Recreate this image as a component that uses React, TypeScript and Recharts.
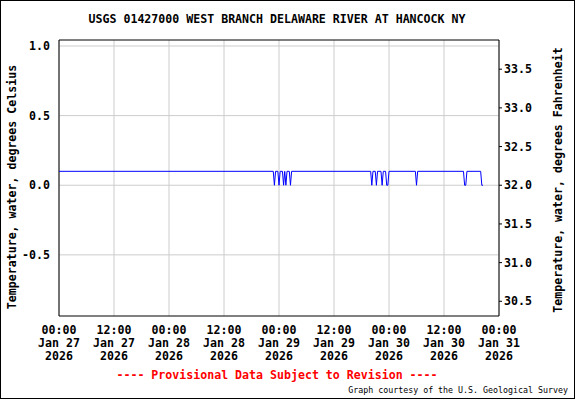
import { LineChart, Line, XAxis, YAxis, CartesianGrid, ReferenceArea } from 'recharts';

// hours since 00:00 Jan 27 2026, water temperature in deg C
const hours = [
  0, 46.75, 47, 47.25, 47.75, 48, 48.25, 48.75, 49, 49.25, 49.5, 49.75, 50.25, 50.5, 50.75,
  68, 68.25, 68.5, 69, 69.25, 69.5, 70.25, 70.5, 70.75, 71.25, 71.5, 71.75, 72,
  77.75, 78, 78.25, 88.25, 88.5, 88.75, 89, 92, 92.25, 92.5,
];
const tempC = [
  0.1, 0.1, 0.0, 0.1, 0.1, 0.0, 0.1, 0.1, 0.0, 0.1, 0.0, 0.1, 0.1, 0.0, 0.1,
  0.1, 0.0, 0.1, 0.1, 0.0, 0.1, 0.1, 0.0, 0.1, 0.1, 0.0, 0.0, 0.1,
  0.1, 0.0, 0.1, 0.1, 0.0, 0.0, 0.1, 0.1, 0.0, 0.0,
];

const xTicks = [0, 12, 24, 36, 48, 60, 72, 84, 96];
const xTimes = ['00:00', '12:00', '00:00', '12:00', '00:00', '12:00', '00:00', '12:00', '00:00'];
const xDates = ['Jan 27', 'Jan 27', 'Jan 28', 'Jan 28', 'Jan 29', 'Jan 29', 'Jan 30', 'Jan 30', 'Jan 31'];
const xYears = ['2026', '2026', '2026', '2026', '2026', '2026', '2026', '2026', '2026'];

const cTicks = [-0.5, 0, 0.5, 1.0];
const fTicks = [30.5, 31.0, 31.5, 32.0, 32.5, 33.0, 33.5];
const cDomain = [-0.939, 1.043];
const fDomain = [cDomain[0] * 1.8 + 32, cDomain[1] * 1.8 + 32];

const data = hours.map((h, i) => ({ h, c: tempC[i], f: tempC[i] * 1.8 + 32 }));

const FONT = '"DejaVu Sans Mono", "Liberation Mono", monospace';

function TimeTick({ x, y, index }: any) {
  return (
    <text x={x} y={y} textAnchor="middle" fontFamily={FONT} fontWeight="bold" fontSize={11.6} fill="#000">
      <tspan x={x} y={y + 18}>{xTimes[index]}</tspan>
      <tspan x={x} y={y + 31}>{xDates[index]}</tspan>
      <tspan x={x} y={y + 44}>{xYears[index]}</tspan>
    </text>
  );
}

export default function App() {
  const tickStyle = { fontFamily: FONT, fontWeight: 'bold', fontSize: 11.6, fill: '#000' };

  return (
    <div style={{ position: 'absolute', left: 0, top: 0, width: 576, height: 400, background: '#fff' }}>
      <div
        style={{
          position: 'absolute', left: 0, top: 0, width: 575, height: 399,
          border: '1px solid #000', boxSizing: 'border-box',
        }}
      />
      <LineChart width={576} height={400} data={data} margin={{ top: 40, right: 0, bottom: 0, left: 0 }}>
        <CartesianGrid yAxisId="c" stroke="#cccccc" horizontalValues={cTicks} verticalValues={xTicks} />
        <XAxis
          dataKey="h"
          type="number"
          domain={[0, 96]}
          ticks={xTicks}
          height={84}
          axisLine={false}
          tickLine={false}
          tickSize={0}
          tickMargin={0}
          interval={0}
          tick={<TimeTick />}
        />
        <YAxis
          yAxisId="c"
          type="number"
          domain={cDomain}
          ticks={cTicks}
          width={59}
          axisLine={false}
          tickLine={false}
          tickSize={0}
          tickMargin={9}
          interval={0}
          allowDataOverflow
          tickFormatter={(v: number) => v.toFixed(1)}
          tick={tickStyle}
        />
        <YAxis
          yAxisId="f"
          orientation="right"
          type="number"
          domain={fDomain}
          ticks={fTicks}
          width={77}
          axisLine={false}
          tickLine={{ stroke: '#000' }}
          tickSize={3}
          tickMargin={2}
          interval={0}
          allowDataOverflow
          tickFormatter={(v: number) => v.toFixed(1)}
          tick={tickStyle}
        />
        <Line
          yAxisId="f"
          type="linear"
          dataKey="f"
          stroke="none"
          dot={false}
          activeDot={false}
          isAnimationActive={false}
        />
        <Line
          yAxisId="c"
          type="linear"
          dataKey="c"
          stroke="#0000ff"
          strokeWidth={1}
          dot={false}
          activeDot={false}
          isAnimationActive={false}
        />
        <ReferenceArea
          yAxisId="c"
          x1={0}
          x2={96}
          y1={cDomain[0]}
          y2={cDomain[1]}
          fill="none"
          stroke="#000"
          strokeWidth={1}
          ifOverflow="visible"
        />
      </LineChart>
      <svg width={576} height={400} style={{ position: 'absolute', left: 0, top: 0, pointerEvents: 'none' }}>
        <text x={277} y={23} textAnchor="middle" fontFamily={FONT} fontWeight="bold" fontSize={11.6}>
          USGS 01427000 WEST BRANCH DELAWARE RIVER AT HANCOCK NY
        </text>
        <text
          transform="translate(12,187) rotate(-90)"
          textAnchor="middle"
          dominantBaseline="central"
          fontFamily={FONT}
          fontWeight="bold"
          fontSize={11.6}
        >
          Temperature, water, degrees Celsius
        </text>
        <text
          transform="translate(558,180) rotate(-90)"
          textAnchor="middle"
          dominantBaseline="central"
          fontFamily={FONT}
          fontWeight="bold"
          fontSize={11.6}
        >
          Temperature, water, degrees Fahrenheit
        </text>
        <text x={277} y={379} textAnchor="middle" fontFamily={FONT} fontWeight="bold" fontSize={11.6} fill="#ff0000">
          ---- Provisional Data Subject to Revision ----
        </text>
        <text x={568} y={393} textAnchor="end" fontFamily={FONT} fontSize={8.3}>
          Graph courtesy of the U.S. Geological Survey
        </text>
      </svg>
    </div>
  );
}
